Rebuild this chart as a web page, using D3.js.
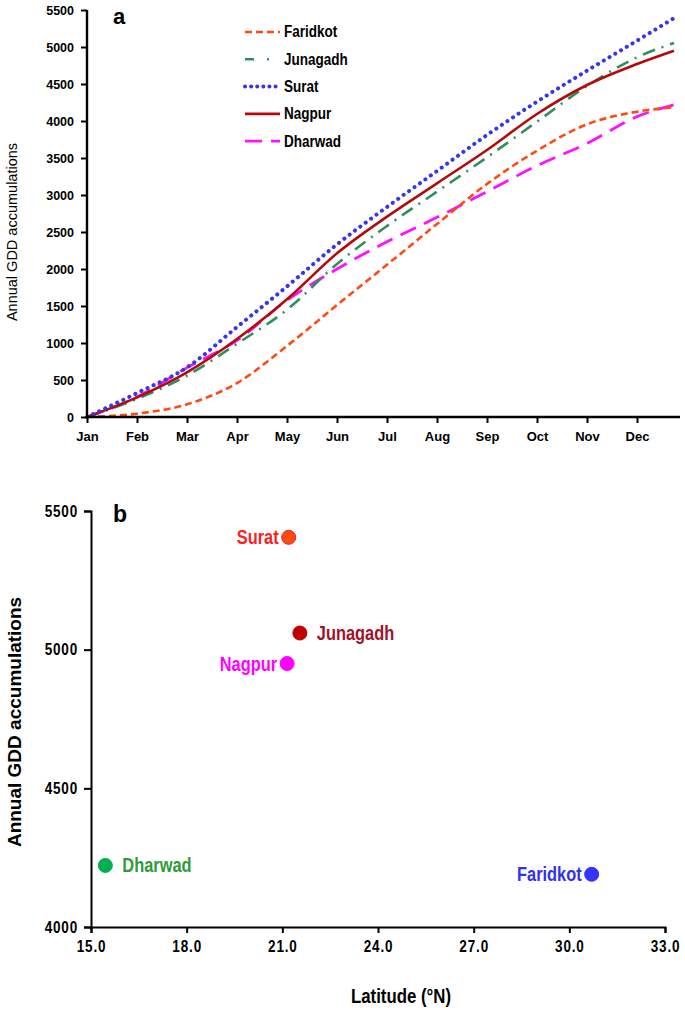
<!DOCTYPE html>
<html><head><meta charset="utf-8">
<script src="https://cdn.jsdelivr.net/npm/d3@7"></script>
<style>
body{margin:0;background:#fff;}
svg{display:block;}
text{font-family:"Liberation Sans",Arial,sans-serif;}
</style></head><body>
<svg id="chart" width="685" height="1010"></svg>
<script>
// ---------- Panel a data ----------
const months = ["Jan","Feb","Mar","Apr","May","Jun","Jul","Aug","Sep","Oct","Nov","Dec"];
const monthPos = [0,1,2,3,4,5,6,7,8,9,10,11,11.74]; // month index (start of month), last = late Dec
const faridkot = [0,45,171,459,960,1513,2058,2608,3150,3599,3955,4126,4185];
const junagadh = [0,245,560,990,1450,2068,2581,3045,3509,3991,4473,4860,5055];
const surat    = [0,324,670,1216,1765,2333,2838,3324,3811,4261,4680,5085,5390];
const nagpur   = [0,266,604,1054,1590,2212,2707,3158,3608,4095,4486,4770,4950];
const dharwad  = [0,270,667,1036,1577,2000,2369,2698,3045,3396,3698,4059,4220];
const seriesNames = ["Faridkot","Junagadh","Surat","Nagpur","Dharwad"];
const yTicksA = [0,500,1000,1500,2000,2500,3000,3500,4000,4500,5000,5500];

// ---------- Panel b data ----------
const stations  = ["Surat","Junagadh","Nagpur","Dharwad","Faridkot"];
const latitude  = [21.2,21.55,21.15,15.45,30.7];
const annualGDD = [5405,5060,4950,4222,4190];
const xTicksB = [15,18,21,24,27,30,33];
const yTicksB = [4000,4500,5000,5500];

const svg = d3.select("#chart");
const SX = 0.82; // horizontal condensing to mimic a narrow bold face

function condense(sel, s){
  sel.each(function(){
    const t = d3.select(this);
    const x = +t.attr("x") || 0;
    t.attr("x", x/s).attr("transform", `scale(${s},1)`);
  });
}

// ================= Panel a =================
const xA = d3.scaleLinear().domain([0,11.86]).range([87,680]);
const yA = d3.scaleLinear().domain([0,5500]).range([417,10]);

const styles = {
  Faridkot:{color:"#ff4a12", dash:"7,4", width:2.6, cap:"butt"},
  Junagadh:{color:"#2f8f5f", dash:"13,7,2,7", width:2.6, cap:"butt"},
  Surat:{color:"#3535f0", dash:"0.1,6.6", width:4, cap:"round"},
  Nagpur:{color:"#b40a0a", dash:null, width:2.6, cap:"butt"},
  Dharwad:{color:"#ff10ff", dash:"17,9", width:2.8, cap:"butt"}
};
const dataA = {Faridkot:faridkot,Junagadh:junagadh,Surat:surat,Nagpur:nagpur,Dharwad:dharwad};

const line = d3.line().x(d=>xA(d[0])).y(d=>yA(d[1])).curve(d3.curveMonotoneX);
const drawOrder = ["Dharwad","Faridkot","Junagadh","Nagpur","Surat"];
drawOrder.forEach(name=>{
  const st = styles[name];
  const pts = monthPos.map((m,i)=>[m,dataA[name][i]]);
  svg.append("path").datum(pts).attr("d",line)
    .attr("fill","none").attr("stroke",st.color).attr("stroke-width",st.width)
    .attr("stroke-dasharray",st.dash).attr("stroke-linecap",st.cap);
});

// axes a
const gyA = svg.append("g").attr("transform",`translate(${xA(0)},0)`)
  .call(d3.axisLeft(yA).tickValues(yTicksA).tickSize(6).tickPadding(7).tickFormat(d3.format("d")));
const gxA = svg.append("g").attr("transform",`translate(0,${yA(0)})`)
  .call(d3.axisBottom(xA).tickValues(d3.range(12)).tickSize(6).tickPadding(9).tickFormat(i=>months[i]));
[gyA,gxA].forEach(g=>{
  g.select(".domain").attr("stroke","#000").attr("stroke-width",2.4);
  g.selectAll(".tick line").attr("stroke","#000").attr("stroke-width",2);
  g.selectAll("text").attr("font-family","Liberation Sans, Arial, sans-serif")
    .attr("font-weight","bold").attr("font-size",13).attr("fill","#000");
});
gyA.selectAll("text").attr("font-size",12.5);
gxA.select(".domain").attr("d",`M${xA(0)},0H${xA(11.86)}`);
gyA.select(".domain").attr("d",`M0,${yA(5500)}V${yA(0)}`);

svg.append("text").attr("transform","translate(17,232) rotate(-90)")
  .attr("text-anchor","middle").attr("font-size",14.5).attr("fill","#000")
  .text("Annual GDD accumulations");
svg.append("text").attr("x",113).attr("y",24).attr("font-size",22).attr("font-weight","bold").text("a");

// legend a
const leg = svg.append("g");
seriesNames.forEach((name,i)=>{
  const st = styles[name];
  const y = 32 + i*27.3;
  leg.append("line").attr("x1",245).attr("x2",280).attr("y1",y).attr("y2",y)
    .attr("stroke",st.color).attr("stroke-width",st.width)
    .attr("stroke-dasharray", name==="Junagadh" ? "9,13,2,20" : (name==="Surat" ? "0.1,6" : st.dash))
    .attr("stroke-linecap",st.cap);
  const t = leg.append("text").attr("x",284).attr("y",y+5.5).attr("font-weight","bold")
    .attr("font-size",16.5).attr("fill","#000").text(name);
  condense(t, SX);
});

// ================= Panel b =================
const xB = d3.scaleLinear().domain([15,33]).range([91,665]);
const yB = d3.scaleLinear().domain([4000,5500]).range([927,511]);

const ptStyle = {
  Surat:{fill:"#ff4a10",stroke:"#f02020",label:"#ff1c1c",side:"left"},
  Junagadh:{fill:"#c00000",stroke:"#c00000",label:"#a3102c",side:"right"},
  Nagpur:{fill:"#ff00ff",stroke:"#ff00ff",label:"#ff00ff",side:"left"},
  Dharwad:{fill:"#00b050",stroke:"#00b050",label:"#2f9a3c",side:"right"},
  Faridkot:{fill:"#3434ff",stroke:"#3434ff",label:"#3030ee",side:"left"}
};

const gyB = svg.append("g").attr("transform",`translate(${xB(15)},0)`)
  .call(d3.axisLeft(yB).tickValues(yTicksB).tickSize(7).tickPadding(6).tickFormat(d3.format("d")));
const gxB = svg.append("g").attr("transform",`translate(0,${yB(4000)})`)
  .call(d3.axisBottom(xB).tickValues(xTicksB).tickSize(6).tickPadding(7).tickFormat(d3.format(".1f")));
[gyB,gxB].forEach(g=>{
  g.select(".domain").attr("stroke","#000").attr("stroke-width",2);
  g.selectAll(".tick line").attr("stroke","#000").attr("stroke-width",2);
  g.selectAll("text").attr("font-weight","bold").attr("font-size",16.5)
    .attr("letter-spacing",1).attr("fill","#000");
  condense(g.selectAll("text"), SX);
});

stations.forEach((s,i)=>{
  const st = ptStyle[s];
  const cx = xB(latitude[i]), cy = yB(annualGDD[i]);
  svg.append("circle").attr("cx",cx).attr("cy",cy).attr("r",7)
    .attr("fill",st.fill).attr("stroke",st.stroke).attr("stroke-width",1);
  const t = svg.append("text").attr("font-weight","bold")
    .attr("x", st.side==="left" ? cx-10 : cx+17)
    .attr("y", cy+7)
    .attr("text-anchor", st.side==="left" ? "end" : "start")
    .attr("font-size",20).attr("fill",st.label).text(s);
  condense(t, SX);
});

svg.append("text").attr("transform","translate(21,722) rotate(-90)")
  .attr("text-anchor","middle").attr("font-size",19).attr("font-weight","bold").attr("fill","#000")
  .text("Annual GDD accumulations");
const lat = svg.append("text").attr("x",401).attr("y",1003).attr("font-weight","bold")
  .attr("text-anchor","middle").attr("font-size",20.5).attr("fill","#000").text("Latitude (°N)");
condense(lat, SX);
svg.append("text").attr("x",113).attr("y",522).attr("font-size",23).attr("font-weight","bold").text("b");
</script>
</body></html>
